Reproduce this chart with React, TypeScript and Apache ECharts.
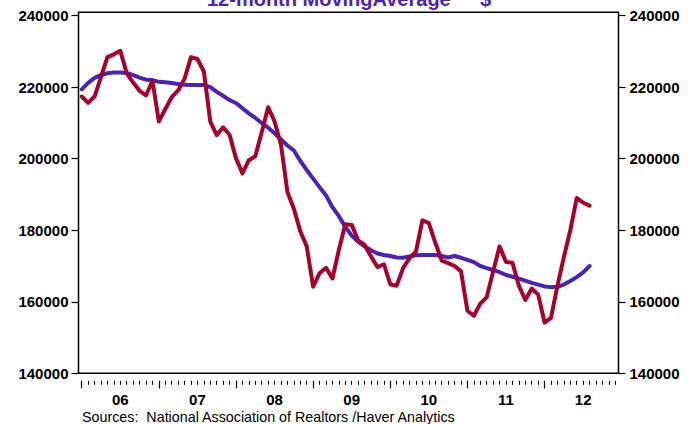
import React, { useEffect, useRef } from "react";
import * as echarts from "echarts";

// Monthly categories Jan 2006 .. Dec 2012; data run Jan 2006 .. Aug 2012
const years = ["2006", "2007", "2008", "2009", "2010", "2011", "2012"];
const monthNums = ["01", "02", "03", "04", "05", "06", "07", "08", "09", "10", "11", "12"];
const months: string[] = [];
years.forEach((y) => monthNums.forEach((m) => months.push(`${y}-${m}`)));
const yTicks = [140000, 160000, 180000, 200000, 220000, 240000];

const medianPrice = [
  217400, 215600, 217400, 222900, 228400, 229200, 230200, 223900, 221300, 219000, 217700, 221800,
  210400, 213900, 217200, 219100, 222400, 228400, 227900, 224400, 210400, 206600, 208800, 206700,
  200100, 195900, 199600, 200700, 207400, 214400, 210400, 203900, 190700, 186000, 179700, 175500,
  164200, 168000, 169500, 166500, 174500, 181700, 181500, 177200, 175900, 172700, 169700, 170500,
  164900, 164500, 169500, 172200, 174100, 182800, 182000, 176500, 171500, 170800, 170000, 168500,
  157500, 156100, 159500, 161300, 168500, 175500, 171100, 170900, 164500, 160500, 163700, 162000,
  154200, 155500, 164500, 172500, 180000, 189000, 187700, 186900,
];

const movingAverage = [
  219400, 221200, 222600, 223400, 223900, 224100, 224100, 224000, 223400, 222700, 222100, 222000,
  221500, 221400, 221200, 220900, 220700, 220600, 220600, 220600, 220000, 218700, 217600, 216400,
  215600, 214100, 212700, 211400, 210000, 208700, 207100, 205400, 203700, 202300, 199400, 196850,
  194450, 192050, 189750, 186450, 183950, 180950, 178500, 176800, 175500, 174400, 173500, 173100,
  172800, 172400, 172300, 172700, 173000, 173100, 173100, 173100, 172800, 172400, 172800, 172300,
  171700, 171100, 170000, 169400, 168900, 168300, 167500, 167000, 166500, 165900, 165300, 164800,
  164300, 164100, 164200, 164800, 165800, 166900, 168200, 170000,
];

const RED = "#A8002C";
const BLUE = "#4A22B8";
const FONT = "'Liberation Sans', Arial, sans-serif";

export default function App() {
  const ref = useRef<HTMLDivElement>(null);
  useEffect(() => {
    if (!ref.current) return;
    const chart = echarts.init(ref.current, null, { renderer: "svg" });
    const yAxisCommon = {
      type: "value",
      min: yTicks[0],
      max: yTicks[yTicks.length - 1],
      interval: 20000,
      splitLine: { show: false },
      axisLine: { show: false },
      axisTick: { show: true, inside: false, length: 7, lineStyle: { color: "#000", width: 1.2 } },
    };
    const labelCommon = {
      color: "#000",
      fontFamily: FONT,
      fontWeight: "bold",
      fontSize: 15,
      formatter: (v: number) => String(v),
    };
    const xCommon = {
      type: "category",
      data: months,
      boundaryGap: true,
      position: "bottom",
      offset: 7.5,
      axisLine: { show: false },
      splitLine: { show: false },
    };
    chart.setOption({
      animation: false,
      backgroundColor: "#fff",
      grid: { left: 78.5, right: 69.5, top: 15.7, bottom: 50.7, show: false },
      xAxis: [
        {
          ...xCommon,
          axisTick: { show: true, alignWithLabel: true, interval: 0, length: 4, lineStyle: { color: "#000", width: 1 } },
          axisLabel: { show: false },
        },
        {
          ...xCommon,
          axisTick: {
            show: true,
            alignWithLabel: true,
            interval: (i: number) => i % 12 === 0,
            length: 7.5,
            lineStyle: { color: "#000", width: 1.2 },
          },
          axisLabel: { show: false },
        },
        {
          ...xCommon,
          axisTick: { show: false },
          axisLabel: {
            show: true,
            interval: (i: number) => i % 12 === 6,
            color: "#000",
            fontFamily: FONT,
            fontWeight: "bold",
            fontSize: 15,
            lineHeight: 11,
            margin: 13,
            formatter: (v: string) => v.slice(2, 4),
          },
        },
      ],
      yAxis: [
        { ...yAxisCommon, position: "left", axisLabel: { ...labelCommon, margin: 10 } },
        { ...yAxisCommon, position: "right", axisLabel: { ...labelCommon, margin: 11 } },
      ],
      graphic: [
        {
          type: "rect",
          shape: { x: 78.5, y: 12.3, width: 540, height: 361 },
          style: { fill: "none", stroke: "#000", lineWidth: 1.5 },
          z: 10,
        },
        {
          type: "text",
          left: 207,
          top: -11,
          style: { text: "12-month MovingAverage", fill: BLUE, font: `bold 20px ${FONT}` },
        },
        {
          type: "text",
          left: 480,
          top: -11,
          style: { text: "$", fill: BLUE, font: `bold 20px ${FONT}` },
        },
        {
          type: "text",
          left: 82,
          top: 409.5,
          style: {
            text: "Sources:  National Association of Realtors /Haver Analytics",
            fill: "#000",
            font: `14.3px ${FONT}`,
            lineHeight: 12,
          },
        },
      ],
      series: [
        {
          type: "line",
          name: "Median",
          xAxisIndex: 0,
          yAxisIndex: 0,
          data: medianPrice,
          showSymbol: false,
          lineStyle: { color: RED, width: 4, cap: "round", join: "round" },
          z: 3,
        },
        {
          type: "line",
          name: "12-month Moving Average",
          xAxisIndex: 0,
          yAxisIndex: 0,
          data: movingAverage,
          showSymbol: false,
          lineStyle: { color: BLUE, width: 4, cap: "round", join: "round" },
          z: 2,
        },
      ],
    });
    return () => chart.dispose();
  }, []);
  return <div ref={ref} style={{ position: "fixed", left: 0, top: 0, width: 688, height: 424 }} />;
}
